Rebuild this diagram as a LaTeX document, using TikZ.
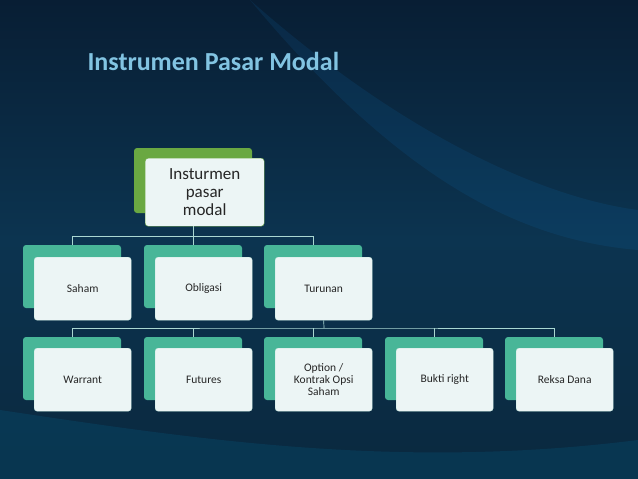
\documentclass[tikz,border=0pt]{standalone}
\usepackage{fontspec}
\setmainfont{Carlito}
\newfontfamily\bodyf{Carlito}
\definecolor{bgtop}{RGB}{8,30,52}
\definecolor{bgmid}{RGB}{12,52,80}
\definecolor{bgbot}{RGB}{10,40,62}
\definecolor{tealbox}{RGB}{72,182,152}
\definecolor{greenbox}{RGB}{106,168,66}
\definecolor{frontc}{RGB}{236,245,245}
\definecolor{titlec}{RGB}{130,196,226}
\definecolor{connc}{RGB}{170,215,210}
\begin{document}
\begin{tikzpicture}[x=1pt,y=-1pt,
  backbox/.style={rounded corners=3pt,fill=#1},
  frontbox/.style={rounded corners=3pt,fill=frontc,draw=white!70!tealbox,line width=0.4pt,align=center,font=\bodyf\fontsize{11.5}{12}\selectfont,text=black!85},
  conn/.style={draw=connc,line width=0.7pt}]
\useasboundingbox (0,0) rectangle (638,479);
\shade[top color=bgtop, bottom color=bgbot, middle color=bgmid] (0,0) rectangle (638,479);
\fill[cyan!60!blue,opacity=0.12] (250,0) .. controls (420,150) and (560,200) .. (638,210) -- (638,250) .. controls (520,240) and (400,180) .. (250,0);
\fill[cyan,opacity=0.10] (0,410) .. controls (200,440) and (400,470) .. (638,440) -- (638,479) -- (0,479) -- cycle;
\node[anchor=base west,text=titlec,font=\fontsize{26}{30}\bfseries\selectfont] (title) at (84,70) {Instrumen Pasar Modal};
% top
\fill[backbox=greenbox] (134,148) rectangle (252,213);
\node[frontbox,minimum width=119pt,minimum height=68pt,font=\bodyf\fontsize{17}{18}\selectfont,anchor=north west,draw=greenbox] (top) at (145,158) {Insturmen\\pasar\\modal};
\coordinate (h1) at (193,236);
\foreach \n/\x/\t in {saham/23/Saham,obl/144/Obligasi,tur/264/Turunan}{
  \fill[backbox=tealbox] (\x,245) rectangle ++(98,63);
  \coordinate (\n-b) at (\x+49,245);
  \node[frontbox,minimum width=97pt,minimum height=63pt,anchor=north west] (\n) at (\x+11,257) {\t};
}
\draw[conn] (h1 |- top.south) -- (h1) -| (saham-b);
\draw[conn] (h1) -| (tur-b);
\draw[conn] (h1) -- (obl-b);
\coordinate (h2) at (324,328);
\foreach \n/\x/\t in {war/23/Warrant,fut/144/Futures,opt/264/{Option /\\Kontrak Opsi\\Saham},buk/385/Bukti right,rek/505/Reksa Dana}{
  \fill[backbox=tealbox] (\x,337) rectangle ++(98,63);
  \coordinate (\n-b) at (\x+49,337);
  \node[frontbox,minimum width=97pt,minimum height=63pt,anchor=north west] (\n) at (\x+11,348) {\t};
}
\draw[conn] (tur.south) -- (h2);
\draw[conn] (war-b) |- (h2) -| (rek-b);
\draw[conn] (fut-b) -- (fut-b |- h2);
\draw[conn] (opt-b) -- (opt-b |- h2);
\draw[conn] (buk-b) -- (buk-b |- h2);
\end{tikzpicture}
\end{document}
